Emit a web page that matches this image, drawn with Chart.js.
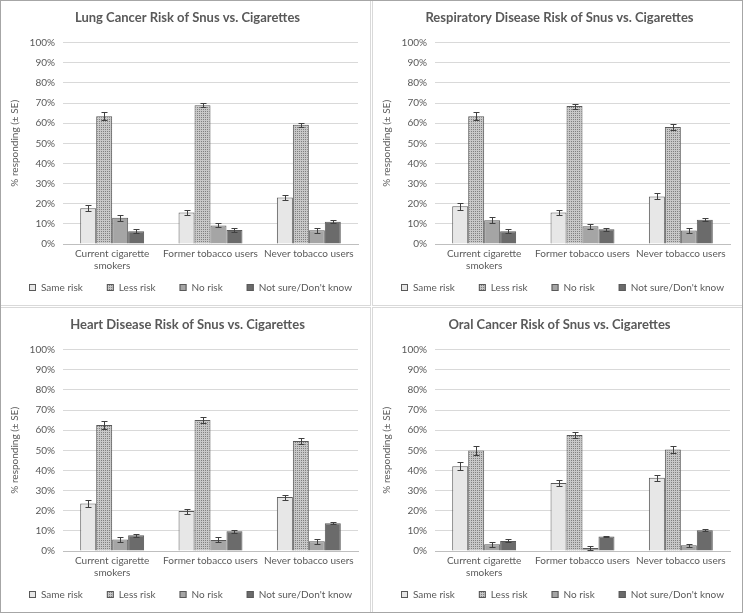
<!DOCTYPE html>
<html>
<head>
<meta charset="utf-8">
<script src="https://cdn.jsdelivr.net/npm/chart.js@4.4.1/dist/chart.umd.min.js"></script>
<style>
  body { margin: 0; background: #fff; }
  #frame { position: relative; width: 743px; height: 613px; }
  .panel { position: absolute; width: 371px; height: 306px; border: 1px solid #d9d9d9; box-sizing: border-box; background: #fff; }
  .panel canvas { display: block; }
  #frame:after { content: ''; position: absolute; left: 0; top: 0; right: 0; bottom: 0; border: 1px solid #a6a6a6; pointer-events: none; }
</style>
</head>
<body>
<div id="frame">
  <div class="panel" style="left:0;top:0"><canvas id="c0" width="369" height="304"></canvas></div>
  <div class="panel" style="left:372px;top:0"><canvas id="c1" width="369" height="304"></canvas></div>
  <div class="panel" style="left:0;top:307px"><canvas id="c2" width="369" height="304"></canvas></div>
  <div class="panel" style="left:372px;top:307px"><canvas id="c3" width="369" height="304"></canvas></div>
</div>
<script>
// data (rows = series, columns = categories)
const categories = [['Current cigarette', 'smokers'], 'Former tobacco users', 'Never tobacco users'];
const seriesLabels = ['Same risk', 'Less risk', 'No risk', "Not sure/Don't know"];
const titles = [
    'Lung Cancer Risk of Snus vs. Cigarettes',
    'Respiratory Disease Risk of Snus vs. Cigarettes',
    'Heart Disease Risk of Snus vs. Cigarettes',
    'Oral Cancer Risk of Snus vs. Cigarettes'
];

const lungValues = [[17.8, 15.6, 23.1], [63.4, 68.9, 59.2], [13.0, 9.2, 6.8], [6.3, 7.0, 11.1]];
const lungErrors = [[1.6, 1.1, 1.25], [1.9, 1.1, 1.0], [1.6, 1.0, 1.1], [1.0, 0.8, 0.6]];
const respValues = [[18.8, 15.6, 23.6], [63.4, 68.5, 58.1], [11.8, 8.8, 6.7], [6.3, 7.3, 12.1]];
const respErrors = [[1.75, 1.1, 1.5], [1.9, 1.25, 1.5], [1.6, 1.2, 1.1], [1.0, 0.8, 0.6]];
const heartValues = [[23.6, 19.8, 26.8], [62.6, 65.1, 54.6], [5.7, 5.5, 4.8], [7.8, 9.8, 13.8]];
const heartErrors = [[1.8, 1.3, 1.25], [2.0, 1.5, 1.6], [1.4, 1.25, 1.3], [0.8, 0.7, 0.5]];
const oralValues = [[42.1, 33.8, 36.4], [49.9, 57.6, 50.4], [3.3, 1.5, 2.8], [5.0, 7.2, 10.3]];
const oralErrors = [[2.0, 1.5, 1.5], [2.0, 1.5, 1.5], [1.3, 0.9, 0.9], [0.75, 0.35, 0.4]];

const FONT = 'Lato, "Liberation Sans", sans-serif';
const TEXT = '#595959';

// dotted fill used by "Less risk"
function makePattern() {
    const c = document.createElement('canvas');
    c.width = 2; c.height = 2;
    const g = c.getContext('2d');
    g.fillStyle = '#c8c8c8';
    g.fillRect(0, 0, 2, 2);
    g.fillStyle = '#808080';
    g.fillRect(0, 0, 1, 1);
    return g.createPattern(c, 'repeat');
}

const fills = ['#e7e7e7', makePattern(), '#a5a5a5', '#6b6b6b'];

// ± SE whiskers
const errorBars = {
    id: 'errorBars',
    afterDatasetsDraw(chart) {
        const ctx = chart.ctx;
        const y = chart.scales.y;
        ctx.save();
        ctx.strokeStyle = '#404040';
        ctx.lineWidth = 1;
        chart.data.datasets.forEach((ds, i) => {
            chart.getDatasetMeta(i).data.forEach((bar, j) => {
                const x = Math.round(bar.x) + 0.5;
                const top = Math.round(y.getPixelForValue(ds.data[j] + ds.errors[j])) + 0.5;
                const bot = Math.round(y.getPixelForValue(ds.data[j] - ds.errors[j])) + 0.5;
                ctx.beginPath();
                ctx.moveTo(x, top); ctx.lineTo(x, bot);
                ctx.moveTo(x - 3, top); ctx.lineTo(x + 3, top);
                ctx.moveTo(x - 3, bot); ctx.lineTo(x + 3, bot);
                ctx.stroke();
            });
        });
        ctx.restore();
    }
};

// one-row legend under the plot, Excel style (wide gaps between items)
const rowLegend = {
    id: 'rowLegend',
    afterDraw(chart) {
        const ctx = chart.ctx;
        const gap = 24, box = 7;
        ctx.save();
        ctx.font = '10px ' + FONT;
        ctx.textBaseline = 'middle';
        const items = chart.data.datasets.map(ds => ({ ds, w: box + 5 + ctx.measureText(ds.label).width }));
        const total = items.reduce((s, it) => s + it.w, 0) + gap * (items.length - 1);
        let x = Math.round(chart.width / 2 + 5 - total / 2);
        const y = chart.height - 17;
        items.forEach(it => {
            ctx.fillStyle = it.ds.backgroundColor;
            ctx.fillRect(x, y - 4, box, box);
            ctx.strokeStyle = it.ds.borderColor;
            ctx.lineWidth = 1;
            ctx.strokeRect(x + 0.5, y - 3.5, box - 1, box - 1);
            ctx.fillStyle = TEXT;
            ctx.fillText(it.ds.label, x + box + 5, y);
            x += it.w + gap;
        });
        ctx.restore();
    }
};

function createRiskChart(id, title, values, errors) {
    return new Chart(document.getElementById(id), {
        type: 'bar',
        data: {
            labels: categories,
            datasets: seriesLabels.map((label, i) => ({
                label: label,
                data: values[i],
                errors: errors[i],
                backgroundColor: fills[i],
                borderColor: '#595959',
                borderWidth: 1,
                barPercentage: 1,
                categoryPercentage: 0.65
            }))
        },
        options: {
            responsive: false,
            animation: false,
            layout: { padding: { left: 16, right: 12, top: 0, bottom: 29 } },
            plugins: {
                title: {
                    display: true,
                    text: title,
                    color: TEXT,
                    font: { family: FONT, size: 13, weight: 'bold' },
                    padding: { top: 9, bottom: 17 }
                },
                legend: { display: false },
                tooltip: { enabled: false }
            },
            scales: {
                x: {
                    grid: { display: false, drawTicks: false },
                    border: { color: '#bfbfbf' },
                    ticks: { color: TEXT, font: { family: FONT, size: 10 }, maxRotation: 0, autoSkip: false, padding: 4 }
                },
                y: {
                    min: 0,
                    max: 100,
                    border: { display: false },
                    grid: { color: '#d9d9d9', drawTicks: false },
                    ticks: {
                        stepSize: 10,
                        color: TEXT,
                        font: { family: FONT, size: 10 },
                        padding: 8,
                        callback: v => v + '%'
                    },
                    title: {
                        display: true,
                        text: '% responding (± SE)',
                        color: TEXT,
                        font: { family: FONT, size: 10 },
                        padding: { top: -8, bottom: 0 }
                    },
                    afterFit: s => { s.width = 46; }
                }
            }
        },
        plugins: [errorBars, rowLegend]
    });
}

createRiskChart('c0', titles[0], lungValues, lungErrors);
createRiskChart('c1', titles[1], respValues, respErrors);
createRiskChart('c2', titles[2], heartValues, heartErrors);
createRiskChart('c3', titles[3], oralValues, oralErrors);
</script>
</body>
</html>
